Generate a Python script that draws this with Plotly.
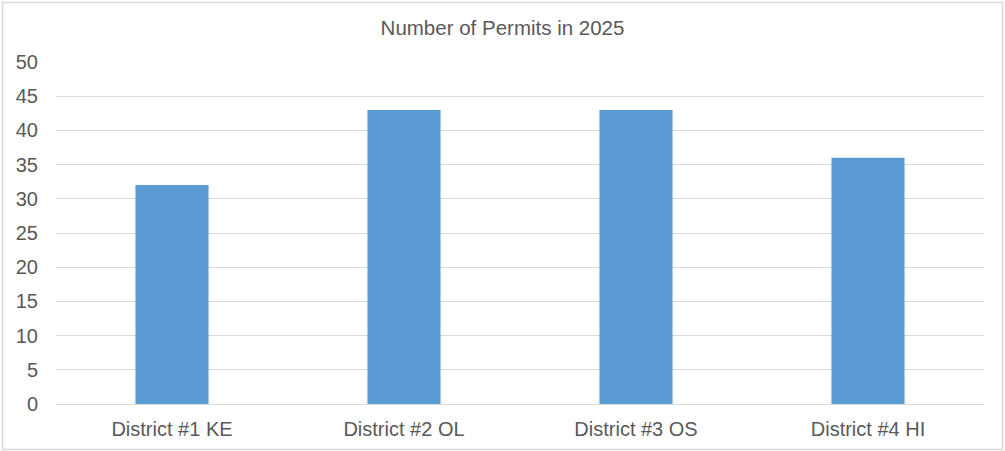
import plotly.graph_objects as go

categories = ["District #1 KE", "District #2 OL", "District #3 OS", "District #4 HI"]
permits = [32, 43, 43, 36]
y_ticks = [0, 5, 10, 15, 20, 25, 30, 35, 40, 45, 50]

TEXT = "#595959"
GRID = "#d9d9d9"
FONT = "Liberation Sans, Arial, sans-serif"

fig = go.Figure(
    go.Bar(
        x=categories,
        y=permits,
        marker=dict(color="#5B9BD5", line=dict(width=0)),
        hoverinfo="x+y",
    )
)

fig.update_layout(
    width=1005,
    height=451,
    margin=dict(l=56, r=21, t=62, b=47, autoexpand=False),
    paper_bgcolor="white",
    plot_bgcolor="white",
    bargap=0.685,
    showlegend=False,
    font=dict(family=FONT, size=20, color=TEXT),
    title=dict(
        text="Number of Permits in 2025",
        x=0.5,
        xanchor="center",
        y=1 - 28 / 451,
        yanchor="middle",
        font=dict(family=FONT, size=20.5, color=TEXT),
    ),
    xaxis=dict(
        showgrid=False,
        showline=True,
        linecolor=GRID,
        linewidth=1,
        ticks="",
        ticklabelstandoff=7,
        tickfont=dict(size=20, color=TEXT),
        automargin=False,
        fixedrange=True,
    ),
    yaxis=dict(
        range=[0, 50],
        tickvals=y_ticks,
        showgrid=True,
        gridcolor=GRID,
        gridwidth=1,
        zeroline=False,
        showline=False,
        ticks="",
        ticklabelstandoff=17,
        tickfont=dict(size=20, color=TEXT),
        automargin=False,
        fixedrange=True,
    ),
    shapes=[
        dict(
            type="rect",
            xref="paper",
            yref="paper",
            x0=(2.5 - 56) / 928,
            x1=(1002.5 - 56) / 928,
            y0=(404 - 449.5) / 342,
            y1=(404 - 2.5) / 342,
            line=dict(color=GRID, width=1.5),
            fillcolor="rgba(0,0,0,0)",
            layer="below",
        )
    ],
)

fig.write_html(
    "out.html",
    config={"displayModeBar": False},
    post_script="document.body.style.margin='0';document.body.style.overflow='hidden';",
)
